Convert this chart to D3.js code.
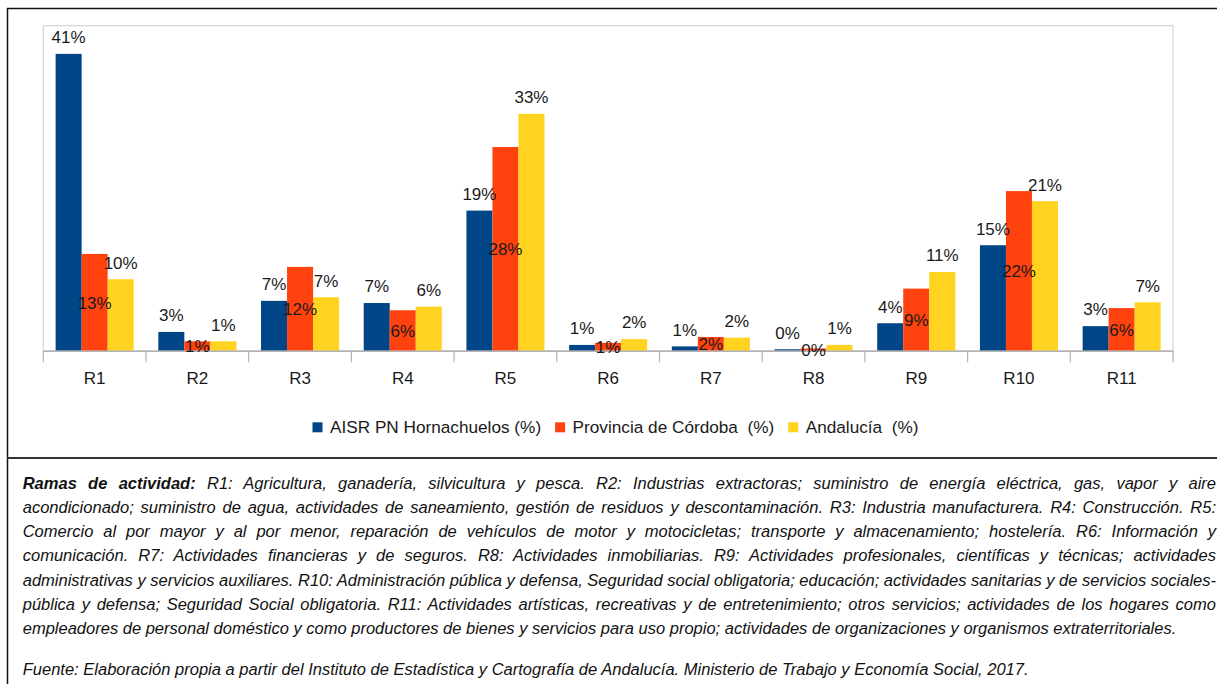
<!DOCTYPE html>
<html>
<head>
<meta charset="utf-8">
<script src="https://cdn.jsdelivr.net/npm/d3@7"></script>
<style>
  html, body { margin: 0; padding: 0; background: #fff; }
  svg { display: block; }
</style>
</head>
<body>
<svg id="chart" width="1217" height="684"></svg>
<script>
// ---------------- DATA ----------------
const categories = ["R1", "R2", "R3", "R4", "R5", "R6", "R7", "R8", "R9", "R10", "R11"];
const seriesNames = ["AISR PN Hornachuelos (%)", "Provincia de Córdoba  (%)", "Andalucía  (%)"];
const aisrValues      = [41.1, 2.6, 6.9, 6.6, 19.4, 0.8, 0.6, 0.2, 3.8, 14.6, 3.4];
const cordobaValues   = [13.4, 1.3, 11.6, 5.6, 28.2, 1.1, 1.9, 0.3, 8.6, 22.1, 5.9];
const andaluciaValues = [9.9, 1.3, 7.4, 6.1, 32.8, 1.6, 1.8, 0.8, 10.9, 20.7, 6.7];
const seriesColors = ["#004586", "#ff420e", "#ffd320"];
const yDomainMax = 45;

const footnoteBold = "Ramas de actividad:";
const footnoteLines = [
  " R1: Agricultura, ganadería, silvicultura y pesca. R2: Industrias extractoras; suministro de energía eléctrica, gas, vapor y aire",
  "acondicionado; suministro de agua, actividades de saneamiento, gestión de residuos y descontaminación. R3: Industria manufacturera. R4: Construcción. R5:",
  "Comercio al por mayor y al por menor, reparación de vehículos de motor y motocicletas; transporte y almacenamiento; hostelería. R6: Información y",
  "comunicación. R7: Actividades financieras y de seguros. R8: Actividades inmobiliarias. R9: Actividades profesionales, científicas y técnicas; actividades",
  "administrativas y servicios auxiliares. R10: Administración pública y defensa, Seguridad social obligatoria; educación; actividades sanitarias y de servicios sociales-",
  "pública y defensa; Seguridad Social obligatoria. R11: Actividades artísticas, recreativas y de entretenimiento; otros servicios; actividades de los hogares como",
  "empleadores de personal doméstico y como productores de bienes y servicios para uso propio; actividades de organizaciones y organismos extraterritoriales."
];
const sourceLine = "Fuente: Elaboración propia a partir del Instituto de Estadística y Cartografía de Andalucía. Ministerio de Trabajo y Economía Social, 2017.";

// ---------------- LAYOUT ----------------
const svg = d3.select("#chart");
const plot = { left: 43.3, right: 1173, top: 25.7, bottom: 350.7 };
const chartFont = "'Liberation Sans', Arial, sans-serif";

// outer frame
svg.append("line").attr("x1", 7).attr("x2", 1217).attr("y1", 8.5).attr("y2", 8.5)
  .attr("stroke", "#111").attr("stroke-width", 1.5);
svg.append("line").attr("x1", 7.5).attr("x2", 7.5).attr("y1", 8).attr("y2", 684)
  .attr("stroke", "#111").attr("stroke-width", 1.5);
svg.append("line").attr("x1", 7).attr("x2", 1217).attr("y1", 458).attr("y2", 458)
  .attr("stroke", "#333").attr("stroke-width", 2);

// scales
const x = d3.scaleBand().domain(categories).range([plot.left, plot.right]).padding(0);
const bw = x.bandwidth();
const xInner = d3.scaleBand().domain(d3.range(seriesNames.length))
  .range([bw * 0.12, bw * 0.88]).padding(0);
const y = d3.scaleLinear().domain([0, yDomainMax]).range([plot.bottom, plot.top]);

// plot area border
svg.append("rect")
  .attr("x", plot.left).attr("y", plot.top)
  .attr("width", plot.right - plot.left).attr("height", plot.bottom - plot.top)
  .attr("fill", "none").attr("stroke", "#d4d4d4").attr("stroke-width", 1.2);

// bars
const seriesData = [aisrValues, cordobaValues, andaluciaValues];
const fmt = v => Math.round(v) + "%";
const barG = svg.append("g");
seriesData.forEach((vals, si) => {
  barG.selectAll(".bar" + si)
    .data(vals)
    .join("rect")
    .attr("x", (d, i) => x(categories[i]) + xInner(si))
    .attr("y", d => y(d))
    .attr("width", xInner.bandwidth())
    .attr("height", d => y(0) - y(d))
    .attr("fill", seriesColors[si]);
});

// x axis
const xAxis = d3.axisBottom(x).tickSize(0).tickPadding(0);
const axisG = svg.append("g").attr("transform", `translate(0,${plot.bottom})`).call(xAxis);
axisG.select(".domain").attr("stroke", "#b3b3b3").attr("stroke-width", 1.5);
axisG.selectAll(".tick text")
  .attr("font-family", chartFont).attr("font-size", 17).attr("fill", "#1a1a1a")
  .attr("dy", null).attr("y", 33);
// boundary tick marks
const bounds = categories.map(c => x(c)).concat([plot.right]);
svg.append("g").selectAll("line").data(bounds).join("line")
  .attr("x1", d => d).attr("x2", d => d)
  .attr("y1", plot.bottom).attr("y2", plot.bottom + 11.5)
  .attr("stroke", "#b3b3b3").attr("stroke-width", 1.2);

// data labels
const labelG = svg.append("g").attr("font-family", chartFont).attr("font-size", 17)
  .attr("fill", "#1a1a1a").attr("text-anchor", "middle");
seriesData.forEach((vals, si) => {
  labelG.selectAll(".lab" + si)
    .data(vals)
    .join("text")
    .attr("x", (d, i) => x(categories[i]) + xInner(si) + xInner.bandwidth() / 2)
    .attr("y", d => si === 1 ? (y(d) + y(0)) / 2 + 6.2 : y(d) - 10.7)
    .text(d => fmt(d));
});

// legend
const legG = svg.append("g").attr("font-family", chartFont).attr("font-size", 17.2).attr("fill", "#1a1a1a");
let lx = 312.5;
seriesNames.forEach((name, si) => {
  legG.append("rect").attr("x", lx).attr("y", 422.3).attr("width", 10).attr("height", 10)
    .attr("fill", seriesColors[si]);
  const t = legG.append("text").attr("x", lx + 17.5).attr("y", 432.5)
    .style("white-space", "pre").text(name);
  lx = lx + 17.5 + t.node().getComputedTextLength() + 14;
});

// footnote
const fnFont = "'Liberation Sans', Arial, sans-serif";
const fnX = 22.7, fnRight = 1216, fnLastEnd = 1177;
const fnBaselines = [488.5, 512.8, 537.1, 561.4, 585.7, 610, 634.3];
const sourceBaseline = 674.5;
const fnG = svg.append("g").attr("font-family", fnFont).attr("font-size", 16.5)
  .attr("font-style", "italic").attr("fill", "#111");

const lineNodes = footnoteLines.map((ln, i) => {
  const g = fnG.append("g");
  const t = g.append("text").attr("x", 0).attr("y", 0).style("white-space", "pre");
  if (i === 0) {
    t.append("tspan").attr("font-weight", "bold").text(footnoteBold);
    t.append("tspan").text(ln);
  } else {
    t.text(ln);
  }
  return { g, t, txt: (i === 0 ? footnoteBold : "") + ln };
});
const srcG = fnG.append("g");
const srcT = srcG.append("text").attr("x", 0).attr("y", 0).style("white-space", "pre").text(sourceLine);

// horizontal condensation calibrated on the last (unjustified) line
const lastW = lineNodes[lineNodes.length - 1].t.node().getComputedTextLength();
const sx = (fnLastEnd - fnX) / lastW;
lineNodes.forEach((o, i) => {
  o.g.attr("transform", `translate(${fnX},${fnBaselines[i]}) scale(${sx},1)`);
  if (i < lineNodes.length - 1) {
    const w = o.t.node().getComputedTextLength();
    const nSpaces = (o.txt.match(/ /g) || []).length;
    const target = (fnRight - fnX) / sx;
    o.t.style("word-spacing", ((target - w) / nSpaces) + "px");
  }
});
srcG.attr("transform", `translate(${fnX},${sourceBaseline}) scale(${sx},1)`);
</script>
</body>
</html>
